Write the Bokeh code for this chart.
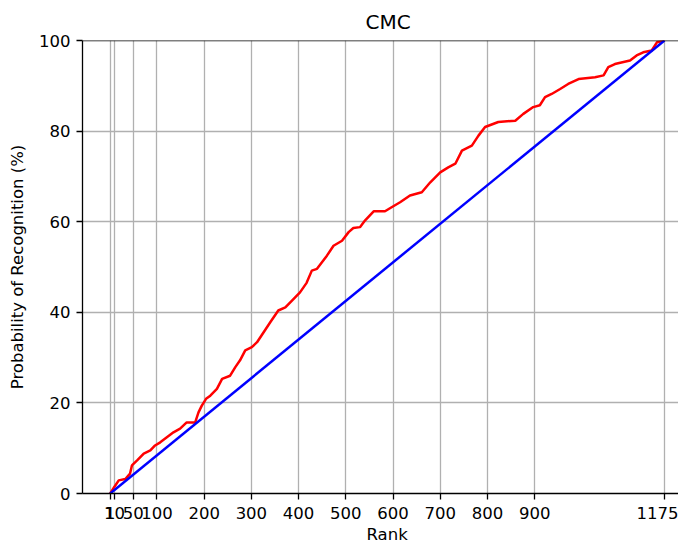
from bokeh.plotting import figure
from bokeh.models import FixedTicker, Span, Range1d, AllLabels, Title
from bokeh.embed import file_html
from bokeh.resources import INLINE

# Data (CMC curve)
rank = [1, 10, 19, 33, 43, 47, 58, 72, 86, 96, 107, 121, 135, 149, 163, 181, 188, 195,
        204, 213, 227, 238, 255, 266, 276, 287, 301, 312, 326, 340, 357, 372, 386, 403,
        417, 428, 439, 460, 474, 492, 506, 516, 530, 541, 559, 583, 597, 615, 636, 661,
        679, 700, 717, 732, 746, 767, 781, 795, 823, 859, 876, 897, 911, 922, 936, 954,
        971, 993, 1028, 1046, 1056, 1070, 1102, 1116, 1130, 1148, 1159, 1175]
recognition = [0, 1.5, 2.9, 3.2, 4.4, 6.2, 7.3, 8.8, 9.5, 10.6, 11.3, 12.4, 13.5, 14.3, 15.7,
               15.7, 17.9, 19.4, 20.9, 21.6, 23.1, 25.3, 26.0, 27.9, 29.4, 31.6, 32.3, 33.4,
               35.6, 37.8, 40.4, 41.1, 42.6, 44.4, 46.5, 49.2, 49.6, 52.5, 54.7, 55.8, 57.7,
               58.6, 58.8, 60.3, 62.3, 62.3, 63.2, 64.3, 65.8, 66.5, 68.7, 70.9, 72.0, 72.8,
               75.7, 76.8, 79.0, 80.9, 82.0, 82.3, 83.8, 85.3, 85.7, 87.5, 88.2, 89.3, 90.4,
               91.5, 91.9, 92.3, 94.1, 94.8, 95.6, 96.7, 97.4, 97.8, 99.6, 100]
chance_rank = [1, 1175]
chance_value = [0, 100]
x_ticks = [1, 10, 50, 100, 200, 300, 400, 500, 600, 700, 800, 900, 1175]
y_ticks = [0, 20, 40, 60, 80, 100]

FONT = "DejaVu Sans"
FS = "16.5px"

p = figure(frame_width=596, frame_height=453,
           min_border_left=82, min_border_right=0, min_border_top=40, min_border_bottom=51,
           x_range=Range1d(-57.7, 1204.7), y_range=Range1d(0, 100),
           output_backend="svg", toolbar_location=None)

p.background_fill_color = "white"
p.border_fill_color = "white"
p.outline_line_color = None

p.add_layout(Title(text="CMC", align="left", offset=283, standoff=13,
                   text_font=FONT, text_font_size="20px", text_font_style="normal",
                   text_color="black"), "above")

for ax in (p.xaxis[0], p.yaxis[0]):
    ax.major_label_text_font = FONT
    ax.major_label_text_font_size = FS
    ax.major_label_text_color = "black"
    ax.major_label_policy = AllLabels()
    ax.axis_label_text_font = FONT
    ax.axis_label_text_font_size = FS
    ax.axis_label_text_font_style = "normal"
    ax.axis_label_text_color = "black"
    ax.axis_line_color = "black"
    ax.axis_line_width = 1.3
    ax.major_tick_line_color = "black"
    ax.major_tick_line_width = 1.3
    ax.major_tick_out = 6
    ax.major_tick_in = 0
    ax.minor_tick_line_color = None

p.xaxis.ticker = FixedTicker(ticks=x_ticks)
p.yaxis.ticker = FixedTicker(ticks=y_ticks)
p.yaxis.axis_label = "Probability of Recognition (%)"
p.xaxis.major_label_standoff = 7
p.yaxis.major_label_standoff = 6
p.yaxis.axis_label_standoff = 9

p.add_layout(Title(text="Rank", align="left", offset=284, standoff=2,
                   text_font=FONT, text_font_size=FS, text_font_style="normal",
                   text_color="black"), "below")

p.xgrid.ticker = FixedTicker(ticks=x_ticks)
p.ygrid.ticker = FixedTicker(ticks=y_ticks)
for g in (p.xgrid[0], p.ygrid[0]):
    g.grid_line_color = "#b0b0b0"
    g.grid_line_width = 1.3

p.line(rank, recognition, line_color="red", line_width=2.5)
p.line(chance_rank, chance_value, line_color="blue", line_width=2.5)

p.add_layout(Span(location=100, dimension="width", line_color="black", line_width=1.3))

open("out.html", "w").write(file_html(p, INLINE))
